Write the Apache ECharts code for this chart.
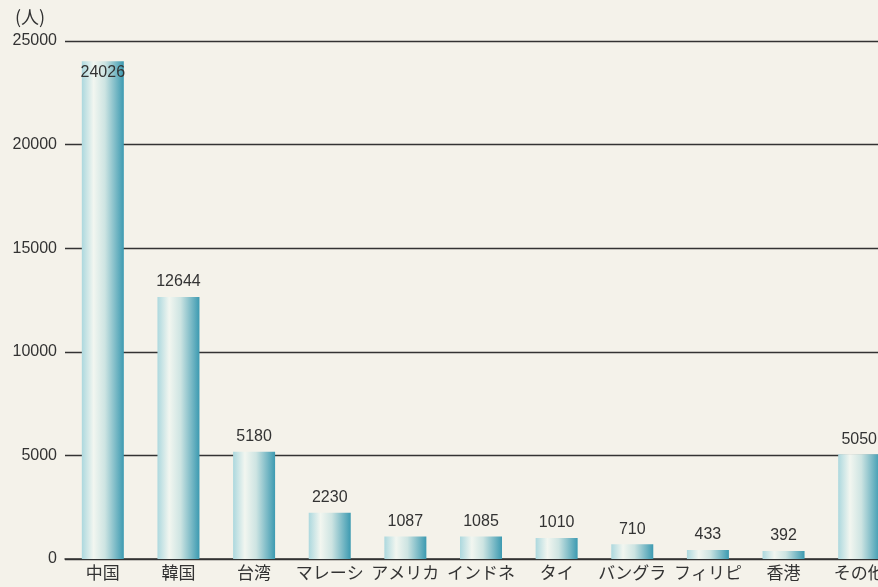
<!DOCTYPE html>
<html><head><meta charset="utf-8">
<style>html,body{margin:0;padding:0;background:#f4f2ea;overflow:hidden;width:878px;height:587px;}#c{width:897px;height:587px;}</style>
<script src="https://cdn.jsdelivr.net/npm/echarts@6/dist/echarts.min.js"></script>
</head><body><div id="c"></div>
<script>
const categories = ['中国','韓国','台湾','マレーシ','アメリカ','インドネ','タイ','バングラ','フィリピ','香港','その他'];
const values = [24026,12644,5180,2230,1087,1085,1010,710,433,392,5050];
const yTicks = [0,5000,10000,15000,20000,25000];

const chart = echarts.init(document.getElementById('c'), null, {renderer:'canvas'});
const grad = new echarts.graphic.LinearGradient(0,0,1,0,[
  {offset:0,color:'#acd8de'},
  {offset:0.28,color:'#f2f6f0'},
  {offset:0.55,color:'#cde4e2'},
  {offset:1,color:'#3c9ab1'}
]);
chart.setOption({
  backgroundColor:'#f4f2ea',
  animation:false,
  title:{text:'(人)',left:10,top:3,textStyle:{fontFamily:'Noto Sans CJK JP',fontSize:18,fontWeight:'normal',color:'#333'}},
  grid:{left:65,right:0,top:41,bottom:28,containLabel:false},
  xAxis:{type:'category',data:categories,
    axisLine:{lineStyle:{color:'#333',width:1.5}},
    axisTick:{show:false},
    axisLabel:{fontFamily:'Noto Sans CJK JP',fontSize:17,color:'#333',margin:5,interval:0}},
  yAxis:{type:'value',min:yTicks[0],max:yTicks[yTicks.length-1],interval:5000,
    axisLine:{show:false},axisTick:{show:false},
    axisLabel:{fontFamily:'Liberation Sans',fontSize:16,color:'#333',margin:8,padding:[6,0,0,0],formatter:v=>String(v)},
    splitLine:{lineStyle:{color:'#333',width:1.3}}},
  series:[{type:'bar',barWidth:42,
    data:values.map((v,i)=>({value:v,label:i===0?{position:'insideTop',distance:3}:{}})),
    itemStyle:{color:grad},
    label:{show:true,position:'top',distance:7,fontFamily:'Liberation Sans',fontSize:16,color:'#333'}}]
});
</script></body></html>
